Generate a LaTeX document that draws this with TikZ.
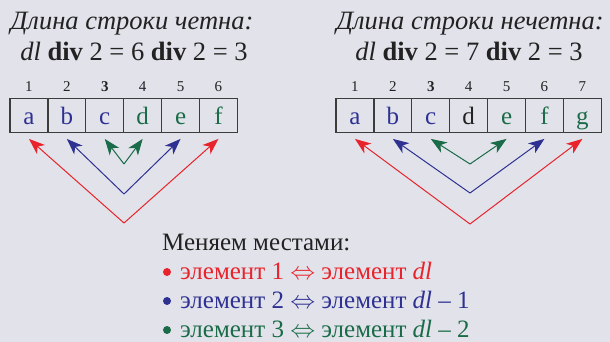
\documentclass[tikz,border=0pt]{standalone}
\usepackage{fontspec}
\setmainfont{Liberation Serif}
\usetikzlibrary{arrows.meta}
\definecolor{bgc}{HTML}{E2E3EA}
\definecolor{myred}{HTML}{E8232B}
\definecolor{myblue}{HTML}{2E3192}
\definecolor{mygreen}{HTML}{1A6B48}
\definecolor{myblack}{HTML}{222222}
\definecolor{cellline}{HTML}{3C3C3C}
\tikzset{
  cell/.style={draw=cellline, line width=1.3pt, minimum width=37.9pt, minimum height=33.5pt,
    inner sep=0pt, text height=22pt, text depth=4pt, font=\fontsize{25}{27}\selectfont},
  idx/.style={inner sep=0pt, anchor=base, font=\fontsize{15}{17}\selectfont, text=myblack},
  title/.style={inner sep=0pt, anchor=base, font=\fontsize{26.5}{29}\selectfont, text=myblack},
  swap/.style={line width=1pt, -{Stealth[length=16pt,width=12pt,inset=4.5pt]}},
  info/.style={inner sep=0pt, anchor=base west, font=\fontsize{25}{27}\selectfont},
  dot/.style={circle, inner sep=0pt, minimum size=8pt}
}
\begin{document}
\begin{tikzpicture}[x=1pt,y=-1pt]
\fill[bgc] (0,0) rectangle (610,342);
\useasboundingbox (0,0) rectangle (610,342);
% titles
\node[title] (t1) at (132,30) {\textit{Длина строки четна:}};
\node[title] (t2) at (134,61) {\textit{dl} \textbf{div} 2 = 6 \textbf{div} 2 = 3};
\node[title] (t3) at (470,30) {\textit{Длина строки нечетна:}};
\node[title] (t4) at (469,61) {\textit{dl} \textbf{div} 2 = 7 \textbf{div} 2 = 3};
% left array
\foreach \i/\ch/\col in {1/a/myblue,2/b/myblue,3/c/myblue,4/d/mygreen,5/e/mygreen,6/f/mygreen}{
  \node[cell, text=\col] (L\i) at ({10+37.9*(\i-0.5)},115.5) {\ch};
}
\foreach \i in {1,2,4,5,6}{\node[idx] (LN\i) at ({10+37.9*(\i-0.5)},92) {\i};}
\node[idx] (LN3) at ({10+37.9*2.5},92) {\textbf{3}};
% right array
\foreach \i/\ch/\col in {1/a/myblue,2/b/myblue,3/c/myblue,4/d/myblack,5/e/mygreen,6/f/mygreen,7/g/mygreen}{
  \node[cell, text=\col] (R\i) at ({336+37.9*(\i-0.5)},115.5) {\ch};
}
\foreach \i in {1,2,4,5,6,7}{\node[idx] (RN\i) at ({336+37.9*(\i-0.5)},92) {\i};}
\node[idx] (RN3) at ({336+37.9*2.5},92) {\textbf{3}};
% apexes
\coordinate (LA1) at (124,223);
\coordinate (LA2) at (124,194);
\coordinate (LA3) at (124,164);
\coordinate (RA1) at (470,224);
\coordinate (RA2) at (470,193);
\coordinate (RA3) at (470,164);
% swap arrows
\draw[swap, myred] (LA1) -- ([yshift=-6pt]L1.south);
\draw[swap, myred] (LA1) -- ([yshift=-6pt]L6.south);
\draw[swap, myblue] (LA2) -- ([yshift=-6pt]L2.south);
\draw[swap, myblue] (LA2) -- ([yshift=-6pt]L5.south);
\draw[swap, mygreen] (LA3) -- ([yshift=-6pt]L3.south);
\draw[swap, mygreen] (LA3) -- ([yshift=-6pt]L4.south);
\draw[swap, myred] (RA1) -- ([yshift=-6pt]R1.south);
\draw[swap, myred] (RA1) -- ([yshift=-6pt]R7.south);
\draw[swap, myblue] (RA2) -- ([yshift=-6pt]R2.south);
\draw[swap, myblue] (RA2) -- ([yshift=-6pt]R6.south);
\draw[swap, mygreen] (RA3) -- ([yshift=-6pt]R3.south);
\draw[swap, mygreen] (RA3) -- ([yshift=-6pt]R5.south);
% legend
\node[info, text=myblack] (m0) at (162,250) {Меняем местами:};
\node[dot, fill=myred] (b1) at (167,272) {};
\node[dot, fill=myblue] (b2) at (167,301) {};
\node[dot, fill=mygreen] (b3) at (167,330) {};
\node[info, text=myred] (m1) at (180,279) {элемент 1 $\Leftrightarrow$ элемент \textit{dl}};
\node[info, text=myblue] (m2) at (180,308) {элемент 2 $\Leftrightarrow$ элемент \textit{dl} – 1};
\node[info, text=mygreen] (m3) at (180,337) {элемент 3 $\Leftrightarrow$ элемент \textit{dl} – 2};
\end{tikzpicture}
\end{document}
